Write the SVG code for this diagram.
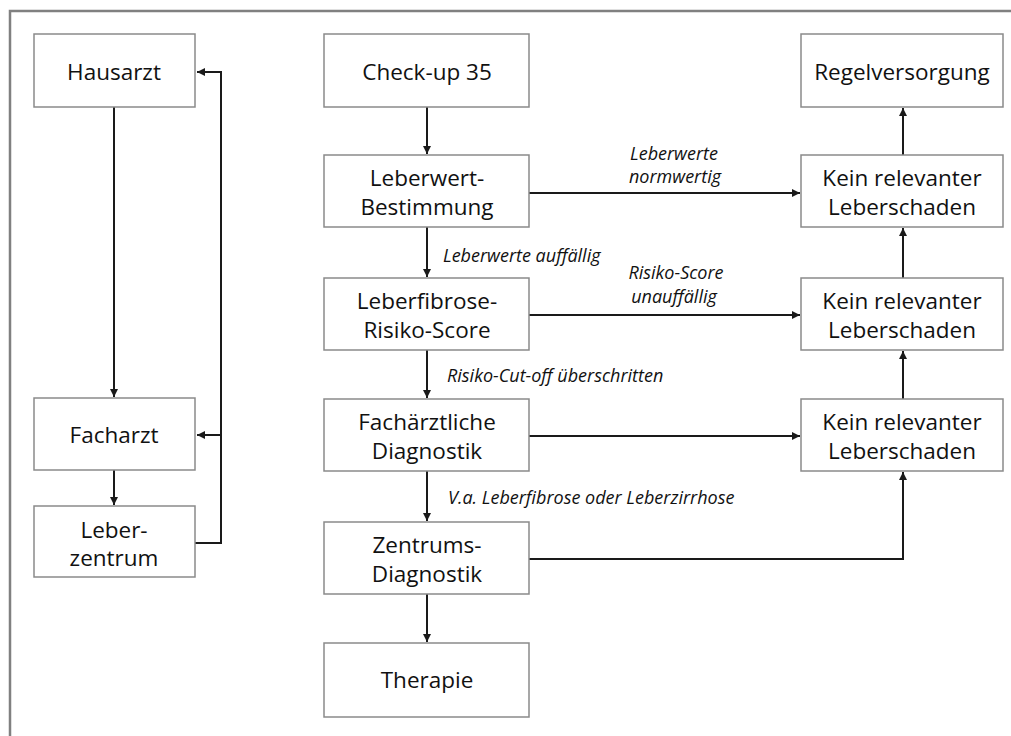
<svg xmlns="http://www.w3.org/2000/svg" width="1011" height="736" viewBox="0 0 1011 736">
<defs>
<style>
.box{fill:#fff;stroke:#8a8a8a;stroke-width:1.5}
.t{font-family:"Open Sans","DejaVu Sans",sans-serif;font-size:22.5px;fill:#111;text-anchor:middle}
.l{font-family:"Open Sans","DejaVu Sans",sans-serif;font-size:18px;font-style:italic;fill:#111}
.m{text-anchor:middle}
.c{fill:none;stroke:#1a1a1a;stroke-width:2}
</style>
<marker id="ah" viewBox="0 0 10 10" refX="10" refY="5" markerWidth="8" markerHeight="8" orient="auto" markerUnits="userSpaceOnUse">
<path d="M0,0 L10,5 L0,10 z" fill="#1a1a1a"/>
</marker>
</defs>
<rect x="0" y="0" width="1011" height="736" fill="#fff"/>
<rect x="10" y="11" width="1020" height="760" fill="none" stroke="#808080" stroke-width="2.5"/>

<g id="connectors">
<line class="c" x1="114" y1="107" x2="114" y2="397" marker-end="url(#ah)"/>
<line class="c" x1="114" y1="470" x2="114" y2="505" marker-end="url(#ah)"/>
<polyline class="c" points="195,543 221,543 221,72 197,72" marker-end="url(#ah)"/>
<line class="c" x1="221" y1="435" x2="197" y2="435" marker-end="url(#ah)"/>

<line class="c" x1="427" y1="107" x2="427" y2="154" marker-end="url(#ah)"/>
<line class="c" x1="427" y1="227" x2="427" y2="277" marker-end="url(#ah)"/>
<line class="c" x1="427" y1="350" x2="427" y2="398" marker-end="url(#ah)"/>
<line class="c" x1="427" y1="471" x2="427" y2="521" marker-end="url(#ah)"/>
<line class="c" x1="427" y1="594" x2="427" y2="642" marker-end="url(#ah)"/>

<line class="c" x1="529" y1="193" x2="800" y2="193" marker-end="url(#ah)"/>
<line class="c" x1="529" y1="315" x2="800" y2="315" marker-end="url(#ah)"/>
<line class="c" x1="529" y1="436" x2="800" y2="436" marker-end="url(#ah)"/>
<polyline class="c" points="529,559 903,559 903,472" marker-end="url(#ah)"/>

<line class="c" x1="903" y1="399" x2="903" y2="351" marker-end="url(#ah)"/>
<line class="c" x1="903" y1="278" x2="903" y2="228" marker-end="url(#ah)"/>
<line class="c" x1="903" y1="155" x2="903" y2="108" marker-end="url(#ah)"/>

<text class="l m" x="674" y="160">Leberwerte</text>
<text class="l m" x="675" y="183">normwertig</text>
<text class="l" x="443" y="262">Leberwerte auffällig</text>
<text class="l m" x="676" y="279">Risiko-Score</text>
<text class="l m" x="674" y="303">unauffällig</text>
<text class="l" x="447" y="382">Risiko-Cut-off überschritten</text>
<text class="l" x="448" y="504">V.a. Leberfibrose oder Leberzirrhose</text>
</g>

<g id="hausarzt"><rect class="box" x="34" y="34" width="161" height="73"/><text class="t" x="114" y="80">Hausarzt</text></g>
<g id="facharzt"><rect class="box" x="34" y="398" width="161" height="72"/><text class="t" x="114" y="443">Facharzt</text></g>
<g id="leberzentrum"><rect class="box" x="34" y="506" width="161" height="71"/><text class="t" x="114" y="538">Leber-</text><text class="t" x="114" y="566">zentrum</text></g>

<g id="checkup"><rect class="box" x="324" y="34" width="205" height="73"/><text class="t" x="427" y="80">Check-up 35</text></g>
<g id="leberwert"><rect class="box" x="324" y="155" width="205" height="72"/><text class="t" x="427" y="186">Leberwert-</text><text class="t" x="427" y="215">Bestimmung</text></g>
<g id="leberfibrose"><rect class="box" x="324" y="278" width="205" height="72"/><text class="t" x="427" y="309">Leberfibrose-</text><text class="t" x="427" y="338">Risiko-Score</text></g>
<g id="fachaerztliche"><rect class="box" x="324" y="399" width="205" height="72"/><text class="t" x="427" y="430">Fachärztliche</text><text class="t" x="427" y="459">Diagnostik</text></g>
<g id="zentrums"><rect class="box" x="324" y="522" width="205" height="72"/><text class="t" x="427" y="553">Zentrums-</text><text class="t" x="427" y="582">Diagnostik</text></g>
<g id="therapie"><rect class="box" x="324" y="643" width="205" height="74"/><text class="t" x="427" y="688">Therapie</text></g>

<g id="regelversorgung"><rect class="box" x="801" y="34" width="202" height="73"/><text class="t" x="902" y="80">Regelversorgung</text></g>
<g id="kein1"><rect class="box" x="801" y="155" width="202" height="72"/><text class="t" x="902" y="186">Kein relevanter</text><text class="t" x="902" y="215">Leberschaden</text></g>
<g id="kein2"><rect class="box" x="801" y="278" width="202" height="72"/><text class="t" x="902" y="309">Kein relevanter</text><text class="t" x="902" y="338">Leberschaden</text></g>
<g id="kein3"><rect class="box" x="801" y="399" width="202" height="72"/><text class="t" x="902" y="430">Kein relevanter</text><text class="t" x="902" y="459">Leberschaden</text></g>
</svg>
